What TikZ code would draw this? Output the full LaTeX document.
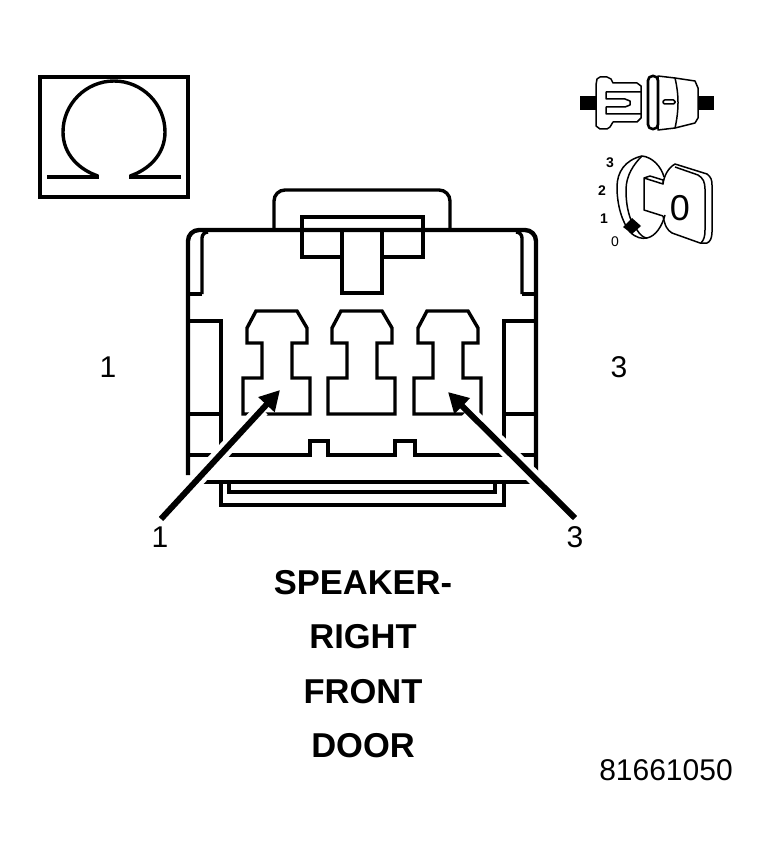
\documentclass[tikz,border=0pt]{standalone}
\usepackage{fontspec}
\setmainfont{Liberation Sans}
\usetikzlibrary{arrows.meta,calc}
\tikzset{
    heavy/.style={line width=4.4pt},
    medium/.style={line width=3.4pt},
    fine/.style={line width=1.5pt,line join=round},
    biglabel/.style={inner sep=0pt,font=\fontsize{30}{30}\selectfont},
    titleline/.style={inner sep=0pt,font=\fontsize{34.5}{34.5}\selectfont\bfseries},
    ticklabel/.style={inner sep=0pt,font=\fontsize{14}{14}\selectfont\bfseries},
    halo/.style={white,line width=15pt},
    pointer/.style={black,line width=6pt,-{Triangle[length=20pt,width=21pt]}}
}
\begin{document}
\begin{tikzpicture}[x=1pt,y=-1pt]
    \useasboundingbox (0,0) rectangle (770,856);

    % ohm box
    \draw[heavy] (40,77) rectangle (188,197);
    \draw[medium] (98,176) .. controls (80,170) and (63,155) .. (63,132)
        .. controls (63,104) and (86,81) .. (114,81)
        .. controls (142,81) and (165,104) .. (165,132)
        .. controls (165,155) and (148,170) .. (130,176);
    \draw[heavy] (47,177) -- (99,177);
    \draw[heavy] (129,177) -- (181,177);

    % plug icon
    \fill (580,96) rectangle (597,110);
    \fill (697,96) rectangle (714,110);
    \draw[fine,fill=white] (596,121) -- (596,126) -- (600,129) -- (607,129) -- (610,127) -- (613,122)
        -- (637,122) -- (641,118) -- (641,86) -- (637,83) -- (613,83) -- (611,79) -- (607,77)
        -- (600,77) -- (597,79) -- (596,85) -- cycle;
    \draw[fine] (641,92) -- (606,92) -- (606,99) -- (625,99) -- (630,101) -- (630,105) -- (625,107)
        -- (606,107) -- (606,114) -- (641,114);
    \draw[fine,fill=white] (658,76) -- (675,78) -- (695,81) -- (698,88) -- (698,118) -- (695,123)
        -- (675,128) -- (658,130) -- cycle;
    \draw[fine] (675,78) .. controls (679,95) and (679,110) .. (675,128);
    \draw[line width=2.6pt,fill=white,rounded corners=4.5pt] (648,76) rectangle (658,129);
    \draw[fine,rounded corners=1.5pt] (663,100) rectangle (675,104);

    % key icon
    \draw[fine] (642,156) .. controls (625,160) and (617,172) .. (617,187)
        .. controls (617,205) and (622,222) .. (630,232)
        .. controls (636,238) and (642,239) .. (647,238);
    \draw[fine] (642,156) .. controls (634,164) and (626,175) .. (626,190)
        .. controls (626,208) and (630,222) .. (637,230)
        .. controls (640,235) and (644,238) .. (647,238)
        .. controls (656,236) and (662,226) .. (665,215);
    \draw[fine] (642,156) .. controls (652,157) and (661,166) .. (664,177);
    \fill (632,218) -- (641,226) -- (632,234) -- (623,227) -- cycle;
    \draw[fine] (663,216) -- (644,210) -- (644,178) -- (650,176) -- (663,180) -- (663,184) -- (644,178);
    \draw[fine] (663,184) .. controls (664,176) and (668,168) .. (675,164) -- (707,174)
        .. controls (711,177) and (712,180) .. (712,185) -- (712,232)
        .. controls (712,238) and (710,242) .. (707,243) -- (700,243) -- (672,233)
        .. controls (667,230) and (665,226) .. (663,216);
    \draw[fine] (675,167) -- (698,175) .. controls (703,178) and (705,182) .. (705,189)
        -- (705,230) .. controls (705,236) and (704,240) .. (701,243);
    \node[inner sep=0pt,font=\fontsize{36}{36}\selectfont] (keyzero) at (680,208) {0};
    \node[ticklabel] (tickthree) at (610,163) {3};
    \node[ticklabel] (ticktwo) at (602,191) {2};
    \node[ticklabel] (tickone) at (604,219) {1};
    \node[ticklabel,font=\fontsize{14}{14}\selectfont] (tickzero) at (615,242) {0};

    % handle and latch
    \draw[medium,rounded corners=11pt] (274,230) -- (274,190) -- (450,190) -- (450,230);
    \draw[medium] (342,257) -- (302,257) -- (302,217) -- (423,217) -- (423,257) -- (382,257);
    \draw[medium] (342,230) -- (342,293) -- (382,293) -- (382,230);

    % body
    \draw[heavy,rounded corners=11pt] (188,475) -- (188,230) -- (536,230) -- (536,475);
    \draw[medium,rounded corners=6pt] (208,232) -- (202,232) -- (202,294);
    \draw[medium] (202,294) -- (188,294);
    \draw[medium,rounded corners=6pt] (516,232) -- (522,232) -- (522,294);
    \draw[medium] (522,294) -- (536,294);

    % side panels
    \draw[medium] (188,321) -- (221,321) -- (221,455);
    \draw[medium] (188,414) -- (221,414);
    \draw[medium] (536,321) -- (504,321) -- (504,455);
    \draw[medium] (536,414) -- (504,414);

    % cavities
    \foreach \dx in {0,85,171} {
        \draw[medium,xshift=\dx pt] (256,311) -- (297,311) -- (307,328) -- (307,343) -- (292,343)
            -- (292,378) -- (310,378) -- (310,414) -- (243,414) -- (243,378) -- (262,378)
            -- (262,343) -- (247,343) -- (247,328) -- cycle;
    }

    % lower rail with notches
    \draw[medium] (188,455) -- (310,455) -- (310,441) -- (328,441) -- (328,455) -- (395,455)
        -- (395,441) -- (415,441) -- (415,455) -- (536,455);
    \draw[heavy] (198,482) -- (534,482);

    % trays
    \draw[medium] (229,482) -- (229,492) -- (495,492) -- (495,482);
    \draw[medium] (221,482) -- (221,505) -- (504,505) -- (504,482);

    % arrows
    \coordinate (lefttail) at (161,519);
    \coordinate (lefttip) at (280,390);
    \coordinate (righttail) at (575,518);
    \coordinate (righttip) at (448,392);
    \draw[halo] (lefttail) -- ($(lefttail)!0.85!(lefttip)$);
    \draw[halo] (righttail) -- ($(righttail)!0.85!(righttip)$);
    \draw[pointer] (lefttail) -- (lefttip);
    \draw[pointer] (righttail) -- (righttip);

    % labels
    \node[biglabel] (pinone) at (108,367) {1};
    \node[biglabel] (pinthree) at (619,367) {3};
    \node[biglabel] (arrowone) at (160,537) {1};
    \node[biglabel] (arrowthree) at (575,537) {3};
    \node[titleline] (speaker) at (363,583) {SPEAKER-};
    \node[titleline] (right) at (363,637) {RIGHT};
    \node[titleline] (front) at (363,692) {FRONT};
    \node[titleline] (door) at (363,746) {DOOR};
    \node[biglabel] (partno) at (666,770) {81661050};
\end{tikzpicture}
\end{document}
